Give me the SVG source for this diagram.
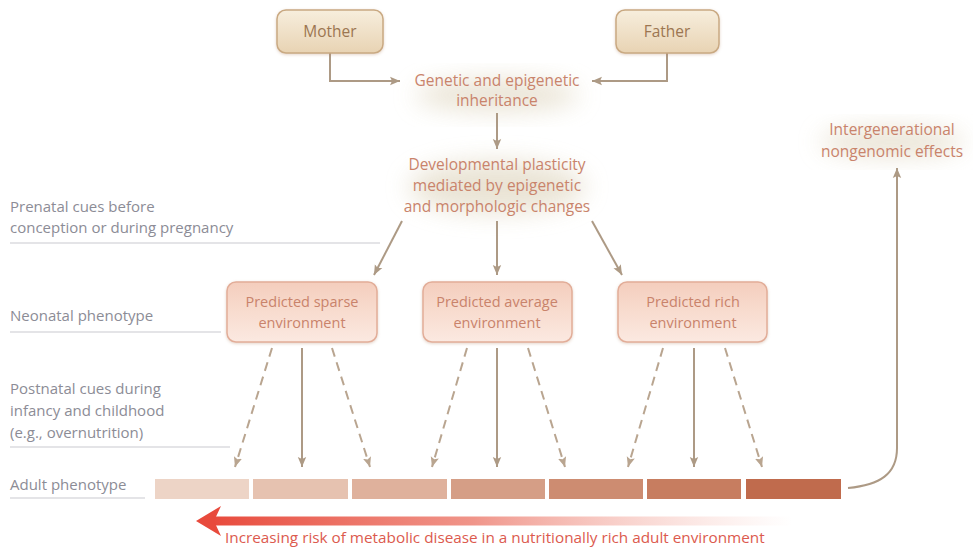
<svg xmlns="http://www.w3.org/2000/svg" width="973" height="549" viewBox="0 0 973 549">
<defs>
<style>
.lbl{font-family:"Open Sans","Liberation Sans",Arial,sans-serif;font-size:15px;fill:#8c8c96}
.ctr{font-family:"Open Sans","Liberation Sans",Arial,sans-serif;font-size:15.5px;fill:#c9836b;text-anchor:middle}
.btxt{font-family:"Open Sans","Liberation Sans",Arial,sans-serif;font-size:14.5px;fill:#c9836b;text-anchor:middle}
.ptxt{font-family:"Open Sans","Liberation Sans",Arial,sans-serif;font-size:15.5px;fill:#9c7651;text-anchor:middle}
.conn{stroke:#ad9a85;stroke-width:2;fill:none}
.dash{stroke:#b9a590;stroke-width:2;fill:none;stroke-dasharray:9 6}
.rule{stroke:#c9c9d0;stroke-width:1.2}
.pbox{fill:url(#pg);stroke:#c9a982;stroke-width:1.5}
.ebox{fill:url(#eg);stroke:#e2ad98;stroke-width:1.5}
.glow{fill:#e6dfcd;filter:url(#blur)}
</style>
<linearGradient id="pg" x1="0" y1="0" x2="0" y2="1">
<stop offset="0" stop-color="#f7eedd"/><stop offset="1" stop-color="#e8d3b3"/>
</linearGradient>
<linearGradient id="eg" x1="0" y1="0" x2="0" y2="1">
<stop offset="0" stop-color="#f4cdbd"/><stop offset="0.5" stop-color="#f8dccf"/><stop offset="1" stop-color="#fbe9e1"/>
</linearGradient>
<linearGradient id="rg" x1="0" y1="0" x2="1" y2="0">
<stop offset="0" stop-color="#e84a3c"/><stop offset="0.45" stop-color="#ec7a6c" stop-opacity="0.8"/><stop offset="1" stop-color="#f4b0a4" stop-opacity="0"/>
</linearGradient>
<filter id="blur" x="-50%" y="-50%" width="200%" height="200%"><feGaussianBlur stdDeviation="12"/></filter>
<filter id="sh" x="-20%" y="-20%" width="140%" height="140%"><feDropShadow dx="0" dy="1" stdDeviation="1.5" flood-color="#b08060" flood-opacity="0.35"/></filter>
<marker id="ah" viewBox="0 0 10 10" refX="10" refY="5" markerWidth="5" markerHeight="5" orient="auto" markerUnits="strokeWidth">
<path d="M0,0.8 L10,5 L0,9.2 L2,5 Z" fill="#ad9a85"/>
</marker>
<marker id="ahd" viewBox="0 0 10 10" refX="10" refY="5" markerWidth="5" markerHeight="5" orient="auto" markerUnits="strokeWidth">
<path d="M0,0.8 L10,5 L0,9.2 L2,5 Z" fill="#b9a590"/>
</marker>
</defs>
<rect width="973" height="549" fill="#ffffff"/>

<!-- glows -->
<ellipse class="glow" cx="497" cy="95" rx="82" ry="16" opacity="0.85"/>
<ellipse class="glow" cx="497" cy="187" rx="88" ry="26" opacity="0.85"/>
<ellipse class="glow" cx="892" cy="142" rx="72" ry="14" opacity="0.85"/>

<!-- left labels -->
<g id="labels">
<text class="lbl" x="10" y="212">Prenatal cues before</text>
<text class="lbl" x="10" y="233">conception or during pregnancy</text>
<line class="rule" x1="10" y1="243" x2="380" y2="243"/>
<text class="lbl" x="10" y="321">Neonatal phenotype</text>
<line class="rule" x1="10" y1="332" x2="221" y2="332"/>
<text class="lbl" x="10" y="394">Postnatal cues during</text>
<text class="lbl" x="10" y="416">infancy and childhood</text>
<text class="lbl" x="10" y="438">(e.g., overnutrition)</text>
<line class="rule" x1="10" y1="447" x2="230" y2="447"/>
<text class="lbl" x="10" y="490">Adult phenotype</text>
<line class="rule" x1="10" y1="498" x2="145" y2="498"/>
</g>

<!-- connectors -->
<g id="connectors">
<path class="conn" d="M330,53 V81 H400" marker-end="url(#ah)"/>
<path class="conn" d="M667,53 V81 H592" marker-end="url(#ah)"/>
<path class="conn" d="M497,113 V149" marker-end="url(#ah)"/>
<path class="conn" d="M402,221 L374,275" marker-end="url(#ah)"/>
<path class="conn" d="M497,221 V275" marker-end="url(#ah)"/>
<path class="conn" d="M592,221 L622,275" marker-end="url(#ah)"/>
<path class="dash" d="M272,348 L235,467" marker-end="url(#ahd)"/>
<path class="conn" d="M302,348 V467" marker-end="url(#ah)"/>
<path class="dash" d="M332,348 L370,467" marker-end="url(#ahd)"/>
<path class="dash" d="M467,348 L432,467" marker-end="url(#ahd)"/>
<path class="conn" d="M497,348 V467" marker-end="url(#ah)"/>
<path class="dash" d="M528,348 L565,467" marker-end="url(#ahd)"/>
<path class="dash" d="M663,348 L628,467" marker-end="url(#ahd)"/>
<path class="conn" d="M694,348 V467" marker-end="url(#ah)"/>
<path class="dash" d="M725,348 L762,467" marker-end="url(#ahd)"/>
<path class="conn" d="M848,488 C880,485 897,474 897,448 V168" marker-end="url(#ah)"/>
</g>

<!-- nodes -->
<g id="mother"><rect class="pbox" x="277" y="10" width="106" height="43" rx="9" filter="url(#sh)"/><text class="ptxt" x="330" y="37">Mother</text></g>
<g id="father"><rect class="pbox" x="616" y="10" width="103" height="43" rx="9" filter="url(#sh)"/><text class="ptxt" x="667" y="37">Father</text></g>
<g id="inheritance"><text class="ctr" x="497" y="86">Genetic and epigenetic</text><text class="ctr" x="497" y="106">inheritance</text></g>
<g id="plasticity"><text class="ctr" x="497" y="170">Developmental plasticity</text><text class="ctr" x="497" y="191">mediated by epigenetic</text><text class="ctr" x="497" y="212">and morphologic changes</text></g>
<g id="intergen"><text class="ctr" x="892" y="135">Intergenerational</text><text class="ctr" x="892" y="157">nongenomic effects</text></g>
<g id="sparse"><rect class="ebox" x="227" y="282" width="150" height="60" rx="9" filter="url(#sh)"/><text class="btxt" x="302" y="307">Predicted sparse</text><text class="btxt" x="302" y="328">environment</text></g>
<g id="average"><rect class="ebox" x="423" y="282" width="149" height="60" rx="9" filter="url(#sh)"/><text class="btxt" x="497" y="307">Predicted average</text><text class="btxt" x="497" y="328">environment</text></g>
<g id="rich"><rect class="ebox" x="618" y="282" width="149" height="60" rx="9" filter="url(#sh)"/><text class="btxt" x="693" y="307">Predicted rich</text><text class="btxt" x="693" y="328">environment</text></g>

<g id="adult-bars">
<rect x="155" y="479" width="94" height="20" fill="#edd4c6"/>
<rect x="253" y="479" width="95" height="20" fill="#e6c2b0"/>
<rect x="352" y="479" width="95" height="20" fill="#dfb19c"/>
<rect x="451" y="479" width="94" height="20" fill="#d59e86"/>
<rect x="549" y="479" width="94" height="20" fill="#cd8c71"/>
<rect x="647" y="479" width="94" height="20" fill="#c77d60"/>
<rect x="746" y="479" width="95" height="20" fill="#c06b4d"/>
</g>

<g id="risk">
<rect x="212" y="516.5" width="580" height="9" fill="url(#rg)"/>
<path d="M196,521 L221,506 L214,521 L221,536 Z" fill="#e84a3c"/>
<text x="225" y="543" style="font-family:'Open Sans','Liberation Sans',Arial,sans-serif;font-size:15.3px;fill:#dc5a4e">Increasing risk of metabolic disease in a nutritionally rich adult environment</text>
</g>
</svg>
